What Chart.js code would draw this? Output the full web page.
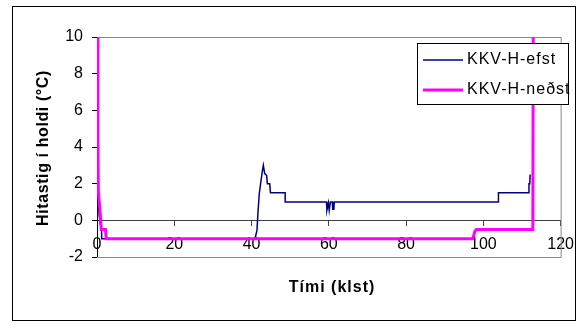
<!DOCTYPE html>
<html>
<head>
<meta charset="utf-8">
<script src="https://cdn.jsdelivr.net/npm/chart.js@4"></script>
<style>
  body { margin: 0; background: #fff; }
  canvas { display: block; }
</style>
</head>
<body>
<canvas id="grafico" width="584" height="329"></canvas>
<script>
// Hitastig í holdi, efst og neðst (KKV-H)
const efstX = [0.1, 0.6, 1.0, 1.2, 1.2, 40.9, 41.4, 41.7, 42.0, 42.4, 42.8, 43.05, 43.4, 43.9, 44.1, 44.7, 44.9, 48.7, 48.7,
  59.4, 59.5, 59.9, 60.1, 60.3, 60.4, 60.9, 61.0, 61.3, 61.4, 103.9, 103.9, 111.7, 111.8, 112.0, 112.1];
const efstY = [1.6, 0.2, -0.4, -0.5, -1, -1, -0.55, 0.55, 1.45, 2.1, 2.7, 3.0, 2.55, 2.45, 2.0, 2.0, 1.5, 1.5, 1.0,
  1.0, 0.55, 0.95, 0.55, 0.55, 1.0, 1.0, 0.6, 0.6, 1.0, 1.0, 1.5, 1.5, 2.0, 2.0, 2.5];

const nedstX = [0.25, 0.25, 0.35, 0.9, 1.1, 2.2, 2.4, 97.3, 97.8, 98.2, 112.8, 112.9];
const nedstY = [10, 4.4, 1.6, 0.2, -0.5, -0.5, -1, -1, -0.6, -0.5, -0.5, 10];

const heiti = ['KKV-H-efst', 'KKV-H-neðst'];
const litir = ['#000080', '#FF00FF'];
const xTicks = [0, 20, 40, 60, 80, 100, 120];
const yTicks = [-2, 0, 2, 4, 6, 8, 10];

const leturgerd = "'Liberation Sans', Arial, sans-serif";

function punktar(xs, ys) {
  return xs.map((x, i) => ({ x: x, y: ys[i] }));
}

// rammi utan um teikningu, gráar línur um teiknisvæði, ásaheiti og skýringar
const rammi = {
  id: 'rammi',
  beforeDatasetsDraw(chart) {
    const { ctx, chartArea: a } = chart;
    ctx.save();
    ctx.strokeStyle = '#888';
    ctx.lineWidth = 1;
    ctx.beginPath();
    ctx.moveTo(a.left, a.top + 0.5);
    ctx.lineTo(a.right + 0.5, a.top + 0.5);
    ctx.lineTo(a.right + 0.5, a.bottom + 0.5);
    ctx.lineTo(a.left, a.bottom + 0.5);
    ctx.stroke();
    ctx.restore();
  },
  afterDraw(chart) {
    const { ctx } = chart;
    ctx.save();
    ctx.strokeStyle = '#000';
    ctx.lineWidth = 1;
    ctx.strokeRect(12.5, 6.5, 563, 314);

    // ásaheiti
    ctx.fillStyle = '#000';
    ctx.font = 'bold 16px ' + leturgerd;
    ctx.textAlign = 'center';
    ctx.textBaseline = 'middle';
    ctx.letterSpacing = '1px';
    ctx.fillText('Tími (klst)', 332, 288);
    ctx.save();
    ctx.translate(44, 148);
    ctx.rotate(-Math.PI / 2);
    ctx.letterSpacing = '0.6px';
    ctx.fillText('Hitastig í holdi (°C)', 0, 0);
    ctx.restore();

    // skýringar
    ctx.letterSpacing = '1px';
    ctx.fillStyle = '#fff';
    ctx.fillRect(417, 43, 151, 61);
    ctx.strokeStyle = '#000';
    ctx.strokeRect(417.5, 43.5, 151, 61);
    ctx.font = '16px ' + leturgerd;
    ctx.textAlign = 'left';
    const linur = [60, 90];
    heiti.forEach((h, i) => {
      ctx.strokeStyle = litir[i];
      ctx.lineWidth = i === 0 ? 1.5 : 3;
      ctx.beginPath();
      ctx.moveTo(423, linur[i]);
      ctx.lineTo(463, linur[i]);
      ctx.stroke();
      ctx.fillStyle = '#000';
      ctx.fillText(h, 467, linur[i]);
    });
    ctx.restore();
  }
};

new Chart(document.getElementById('grafico').getContext('2d'), {
  type: 'scatter',
  data: {
    datasets: [{
      label: heiti[0],
      data: punktar(efstX, efstY),
      showLine: true,
      borderColor: litir[0],
      borderWidth: 1.5,
      pointRadius: 0,
      tension: 0,
      order: 1
    }, {
      label: heiti[1],
      data: punktar(nedstX, nedstY),
      showLine: true,
      borderColor: litir[1],
      borderWidth: 3,
      pointRadius: 0,
      tension: 0,
      order: 0
    }]
  },
  options: {
    responsive: false,
    animation: false,
    layout: { padding: { left: 12, top: 37, right: 16, bottom: 72 } },
    scales: {
      x: {
        type: 'linear',
        position: { y: 0 },
        min: 0,
        max: 120,
        afterBuildTicks: (s) => { s.ticks = xTicks.map(v => ({ value: v })); },
        grid: { drawOnChartArea: false, tickLength: 5, color: '#404040' },
        border: { color: '#404040' },
        ticks: { padding: 10, color: '#000', font: { size: 16, family: leturgerd } }
      },
      y: {
        min: -2,
        max: 10,
        afterBuildTicks: (s) => { s.ticks = yTicks.map(v => ({ value: v })); },
        afterFit: (s) => { s.width = 85; },
        grid: { drawOnChartArea: false, tickLength: 5, color: '#000' },
        border: { color: '#000' },
        ticks: { padding: 9, color: '#000', font: { size: 16, family: leturgerd } }
      }
    },
    plugins: {
      legend: { display: false },
      tooltip: { enabled: false }
    }
  },
  plugins: [rammi]
});
</script>
</body>
</html>
